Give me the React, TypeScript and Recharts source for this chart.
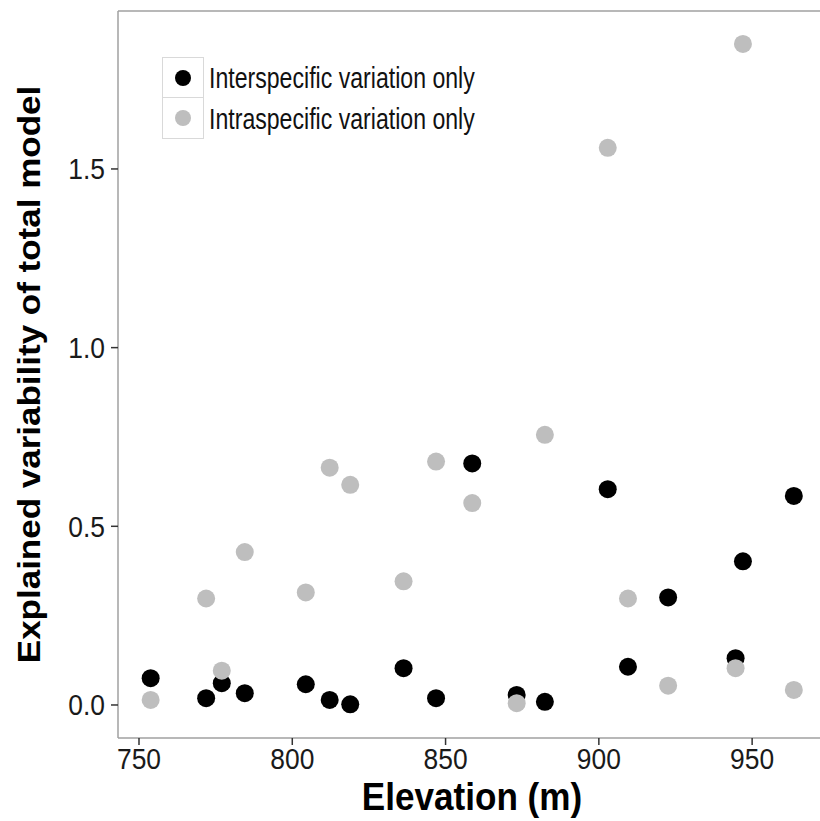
import React from 'react';
import { ScatterChart, Scatter, XAxis, YAxis, Legend, Label, ReferenceLine } from 'recharts';

// Elevation (m) of each site
const elevation = [753.8, 771.9, 777.0, 784.5, 804.4, 812.2, 818.9, 836.3, 846.9, 858.7, 873.2, 882.4, 902.9, 909.5, 922.6, 944.6, 947.0, 963.6];
// Explained variability: interspecific variation only
const interspecific = [0.075, 0.019, 0.061, 0.033, 0.058, 0.014, 0.002, 0.103, 0.019, 0.676, 0.028, 0.009, 0.604, 0.107, 0.301, 0.131, 0.402, 0.585];
// Explained variability: intraspecific variation only
const intraspecific = [0.014, 0.298, 0.096, 0.428, 0.315, 0.664, 0.616, 0.346, 0.681, 0.565, 0.005, 0.756, 1.559, 0.298, 0.054, 0.103, 1.850, 0.042];

const xTicks = [750, 800, 850, 900, 950];
const yTicks = [0, 0.5, 1.0, 1.5];
// the original panel runs a little past the right edge of the picture
const X_DOMAIN: [number, number] = [743.15, 975.4];
const Y_DOMAIN: [number, number] = [-0.0924, 1.942];

const seriesNames = ['Interspecific variation only', 'Intraspecific variation only'];
const seriesColors = ['#000000', '#bebebe'];

const interData = elevation.map((e, i) => ({ x: e, y: interspecific[i] }));
const intraData = elevation.map((e, i) => ({ x: e, y: intraspecific[i] }));

const FONT = '"Liberation Sans", Arial, Helvetica, sans-serif';
const BORDER = '#a0a0a0';
const TICK_COLOR = '#1a1a1a';

const XTick = (props: any) => {
  const { x, y, payload } = props;
  return (
    <text transform={`translate(${x},${y + 22}) scale(0.88,1)`} textAnchor="middle" fontSize={30} fill={TICK_COLOR} fontFamily={FONT}>
      {payload.value}
    </text>
  );
};

const YTick = (props: any) => {
  const { x, y, payload } = props;
  return (
    <text transform={`translate(${x},${y + 10.5}) scale(0.88,1)`} textAnchor="end" fontSize={30} fill={TICK_COLOR} fontFamily={FONT}>
      {Number(payload.value).toFixed(1)}
    </text>
  );
};

const XTitle = (props: any) => {
  const vb = props.viewBox || { x: 118, y: 738, width: 712, height: 83 };
  const cx = vb.x + vb.width / 2 - 2;
  return (
    <text transform={`translate(${cx},${vb.y + 72}) scale(0.9,1)`} textAnchor="middle" fontSize={39} fontWeight="bold" fill="#000" fontFamily={FONT}>
      Elevation (m)
    </text>
  );
};

const YTitle = (props: any) => {
  const vb = props.viewBox || { x: 0, y: 11, width: 118, height: 727 };
  const cy = vb.y + vb.height / 2;
  return (
    <text transform={`translate(${vb.x + 40},${cy}) rotate(-90) scale(1,0.88)`} textAnchor="middle" fontSize={35} fontWeight="bold" fill="#000" fontFamily={FONT}>
      Explained variability of total model
    </text>
  );
};

const renderLegend = (props: any) => {
  const payload = props.payload || [];
  return (
    <div style={{ fontFamily: FONT }}>
      {payload.map((p: any, i: number) => (
        <div key={i} style={{ display: 'flex', alignItems: 'center', height: 41 }}>
          <div
            style={{
              width: 42,
              height: 41,
              boxSizing: 'border-box',
              border: '1px solid #d9d9d9',
              borderTop: i > 0 ? 'none' : '1px solid #d9d9d9',
              display: 'flex',
              alignItems: 'center',
              justifyContent: 'center',
            }}
          >
            <div style={{ width: 16, height: 16, borderRadius: '50%', background: p.color }} />
          </div>
          <span
            style={{
              marginLeft: 5,
              fontSize: 30,
              lineHeight: '41px',
              transform: 'scaleX(0.77)',
              transformOrigin: 'left center',
              whiteSpace: 'nowrap',
              color: '#111',
              display: 'inline-block',
            }}
          >
            {p.value}
          </span>
        </div>
      ))}
    </div>
  );
};

const Dot = (color: string) => (props: any) => {
  const { cx, cy } = props;
  if (cx == null || cy == null) return <g />;
  return <circle cx={cx} cy={cy} r={9} fill={color} />;
};

export default function App() {
  return (
    <div style={{ position: 'absolute', left: 0, top: 0, width: 820, height: 821, background: '#fff', fontFamily: FONT, overflow: 'hidden' }}>
      <ScatterChart width={830} height={821} margin={{ top: 11, right: 0, bottom: 0, left: 0 }}>
        <XAxis
          type="number"
          dataKey="x"
          domain={X_DOMAIN}
          allowDataOverflow
          ticks={xTicks}
          height={83}
          tickSize={7}
          tickMargin={2}
          axisLine={{ stroke: BORDER, strokeWidth: 1.5 }}
          tickLine={{ stroke: '#333', strokeWidth: 1.5 }}
          tick={<XTick />}
          interval={0}
        >
          <Label content={<XTitle />} />
        </XAxis>
        <YAxis
          type="number"
          dataKey="y"
          domain={Y_DOMAIN}
          allowDataOverflow
          ticks={yTicks}
          width={118}
          tickSize={7}
          tickMargin={6}
          axisLine={{ stroke: BORDER, strokeWidth: 1.5 }}
          tickLine={{ stroke: '#333', strokeWidth: 1.5 }}
          tick={<YTick />}
          interval={0}
        >
          <Label content={<YTitle />} />
        </YAxis>
        <ReferenceLine y={Y_DOMAIN[1]} stroke={BORDER} strokeWidth={1.5} />
        <Legend
          layout="vertical"
          align="center"
          verticalAlign="middle"
          content={renderLegend}
          wrapperStyle={{ position: 'absolute', left: 162, top: 57, width: 'auto', height: 'auto' }}
        />
        <Scatter
          name={seriesNames[0]}
          data={interData}
          fill={seriesColors[0]}
          shape={Dot(seriesColors[0])}
          legendType="circle"
          isAnimationActive={false}
        />
        <Scatter
          name={seriesNames[1]}
          data={intraData}
          fill={seriesColors[1]}
          shape={Dot(seriesColors[1])}
          legendType="circle"
          isAnimationActive={false}
        />
      </ScatterChart>
    </div>
  );
}
